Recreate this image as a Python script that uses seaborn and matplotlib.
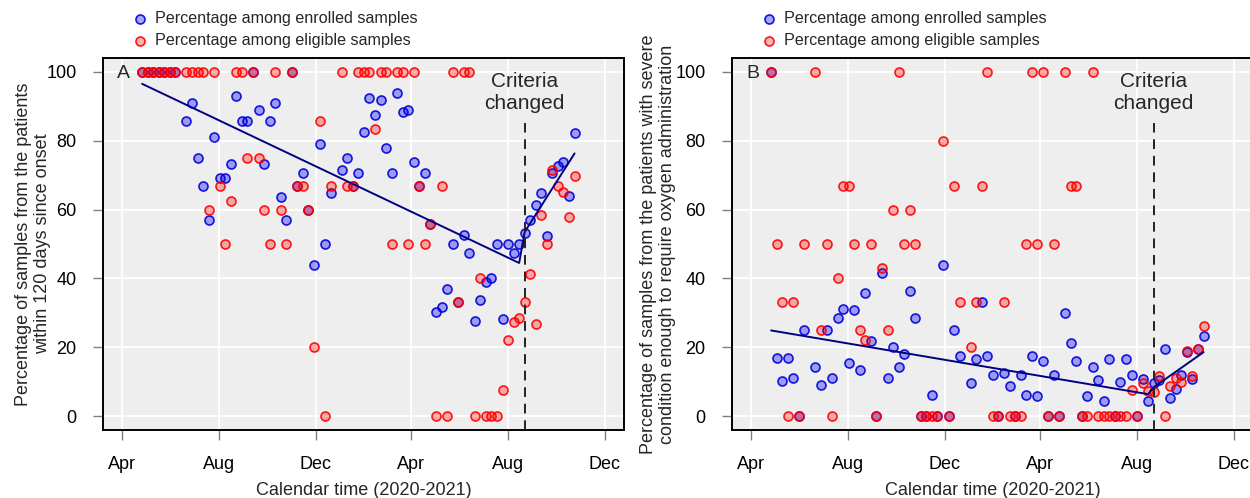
import matplotlib
matplotlib.use("Agg")
import matplotlib.pyplot as plt
import pandas as pd
import seaborn as sns

origin = pd.Timestamp("2020-04-01")

# one point per week, weeks 7 and 35 have no samples
weeks = pd.date_range("2020-04-26", periods=79, freq="7D").delete([7, 35])
days = (weeks - origin).days

enrolled_a = [100, 100, 100, 100, 100, 100, 100,
              85.7, 90.9, 75.0, 66.7, 57.1, 81.2, 69.2, 69.2, 73.3, 92.9, 85.7, 85.7, 100,
              88.9, 73.3, 85.7, 90.9, 63.6, 57.1, 100, 66.7, 70.6, 60.0, 44.0, 78.9, 50.0, 64.7,
              71.4, 75.0, 66.7, 70.6, 82.4, 92.3, 87.5, 91.7, 77.8, 70.6, 93.8, 88.2, 88.9, 73.9,
              66.7, 70.6, 55.8, 30.2, 31.8, 37.0, 50.0, 33.3, 52.7, 47.4, 27.5, 33.6, 39.0, 40.2,
              50.0, 28.1, 50.0, 47.4, 50.0, 53.2, 57.0, 61.4, 64.9, 52.2, 70.6, 72.7, 73.9, 64.0, 82.1]
eligible_a = [100, 100, 100, 100, 100, 100, 100,
              100, 100, 100, 100, 60.0, 100, 66.7, 50.0, 62.5, 100, 100, 75.0, 100,
              75.0, 60.0, 50.0, 100, 60.0, 50.0, 100, 66.7, 66.7, 60.0, 20.0, 85.7, 0, 66.7,
              100, 66.7, 66.7, 100, 100, 100, 83.3, 100, 100, 50.0, 100, 100, 50.0, 100,
              66.7, 50.0, 55.8, 0, 66.7, 0, 100, 33.3, 100, 100, 0, 40.0, 0, 0,
              0, 7.7, 22.2, 27.3, 28.6, 33.3, 41.2, 26.7, 58.3, 50.0, 71.4, 66.7, 65.2, 57.9, 69.6]

enrolled_b = [100, 17.0, 10.2, 17.0, 11.1, 0, 25.0,
              14.3, 9.1, 25.0, 11.1, 28.6, 31.2, 15.4, 30.8, 13.3, 35.7, 21.7, 0, 41.7,
              11.1, 20.0, 14.3, 18.2, 36.4, 28.6, 0, 0, 6.2, 0, 43.8, 0, 25.0, 17.6,
              9.5, 16.7, 33.3, 17.6, 12.0, 0, 12.5, 8.7, 0, 12.0, 6.2, 17.6, 5.9, 16.0,
              0, 12.0, 0, 30.0, 21.4, 16.0, 0, 5.9, 14.3, 10.5, 4.5, 16.7, 0, 10.0,
              16.7, 12.0, 0, 10.8, 4.3, 9.7, 10.5, 19.4, 5.4, 8.0, 11.9, 18.5, 10.8, 19.4, 23.3]
eligible_b = [100, 50.0, 33.3, 0, 33.3, 0, 50.0,
              100, 25.0, 50.0, 0, 40.0, 66.7, 66.7, 50.0, 25.0, 22.2, 50.0, 0, 42.9,
              25.0, 60.0, 100, 50.0, 60.0, 50.0, 0, 0, 0, 0, 80.0, 0, 66.7, 33.3,
              20.0, 33.3, 66.7, 100, 0, 0, 33.3, 0, 0, 0, 50.0, 100, 50.0, 100,
              0, 50.0, 0, 100, 66.7, 66.7, 0, 0, 100, 0, 0, 0, 0, 0,
              0, 7.7, 0, 9.5, 7.4, 6.9, 11.8, 0, 8.7, 11.1, 9.8, 19.0, 11.8, 19.5, 26.1]

# segmented fit: before / after the change of criteria
trend_dates = ["2020-04-26", "2021-08-15", "2021-08-22", "2021-10-24"]
trend_a = [96.5, 44.5, 53.5, 76.3]
trend_b = [24.9, 6.4, 8.4, 18.6]

change_date = "2021-08-22"
tick_dates = ["2020-04-01", "2020-08-01", "2020-12-01", "2021-04-01", "2021-08-01", "2021-12-01"]
tick_labels = ["Apr", "Aug", "Dec", "Apr", "Aug", "Dec"]

ylabel_a = "Percentage of samples from the patients\nwithin 120 days since onset"
ylabel_b = ("Percentage of samples from the patients with severe\n"
            "condition enough to require oxygen administration")


def to_days(d):
    return (pd.to_datetime(d) - origin).days


sns.set_style("darkgrid", {"axes.facecolor": "#EEEEEE", "axes.edgecolor": "black",
                           "grid.color": "white", "xtick.bottom": True, "ytick.left": True})
plt.rcParams["font.family"] = ["Liberation Sans", "DejaVu Sans"]

fig = plt.figure(figsize=(12.5, 4.98), dpi=100)
W, H = 1250, 498


def draw_panel(left, enrolled, eligible, trend, letter, ylabel, ylab_x):
    ax = fig.add_axes([left / W, 1 - 430 / H, 521 / W, 372 / H])

    sns.scatterplot(x=days, y=enrolled, ax=ax, s=42, color=(0, 0, 1, 0.35),
                    edgecolor=(0, 0, 0.85, 0.9), linewidth=1.2, zorder=3,
                    label="Percentage among enrolled samples", legend=False)
    sns.scatterplot(x=days, y=eligible, ax=ax, s=42, color=(1, 0, 0, 0.3),
                    edgecolor=(1, 0, 0, 0.9), linewidth=1.2, zorder=3,
                    label="Percentage among eligible samples", legend=False)
    sns.lineplot(x=to_days(trend_dates), y=trend, ax=ax, color="#000080",
                 linewidth=1.4, zorder=4)

    cd = to_days(change_date)
    ax.vlines(cd, -4, 85, colors="#222222", linestyles=(0, (5, 3.5)), linewidth=1.4, zorder=5)
    ax.text(cd, 94, "Criteria\nchanged", ha="center", va="center", fontsize=15, linespacing=1.2)
    ax.text(1.5, 99.5, letter, ha="center", va="center", fontsize=14)

    ax.set_xlim(-24.4, 633.4)
    ax.set_ylim(-4, 104)
    ax.set_xticks(to_days(tick_dates))
    ax.set_xticklabels(tick_labels)
    ax.set_yticks([0, 20, 40, 60, 80, 100])
    ax.grid(color="white", linewidth=1.3)
    ax.tick_params(length=7, width=1, color="#808080", labelsize=13, labelcolor="black")
    ax.tick_params(axis="x", pad=12)
    ax.tick_params(axis="y", pad=12)
    for s in ax.spines.values():
        s.set_color("black")
        s.set_linewidth(1.4)

    ax.set_xlabel("Calendar time (2020-2021)", fontsize=13)
    ax.xaxis.set_label_coords(0.5, -0.14)
    ax.set_ylabel(ylabel, fontsize=13, linespacing=1.15)
    ax.yaxis.set_label_coords(ylab_x, 0.5)

    ax.legend(loc="upper left", bbox_to_anchor=((left + 29) / W, 1 - 11 / H),
              bbox_transform=fig.transFigure, frameon=False, fontsize=11.6,
              handlelength=1.0, handletextpad=0.45, labelspacing=0.45,
              borderpad=0, borderaxespad=0)
    return ax


draw_panel(103, enrolled_a, eligible_a, trend_a, "A", ylabel_a, -0.1)
draw_panel(732, enrolled_b, eligible_b, trend_b, "B", ylabel_b, -0.108)

fig.savefig("out.png", dpi=100)
